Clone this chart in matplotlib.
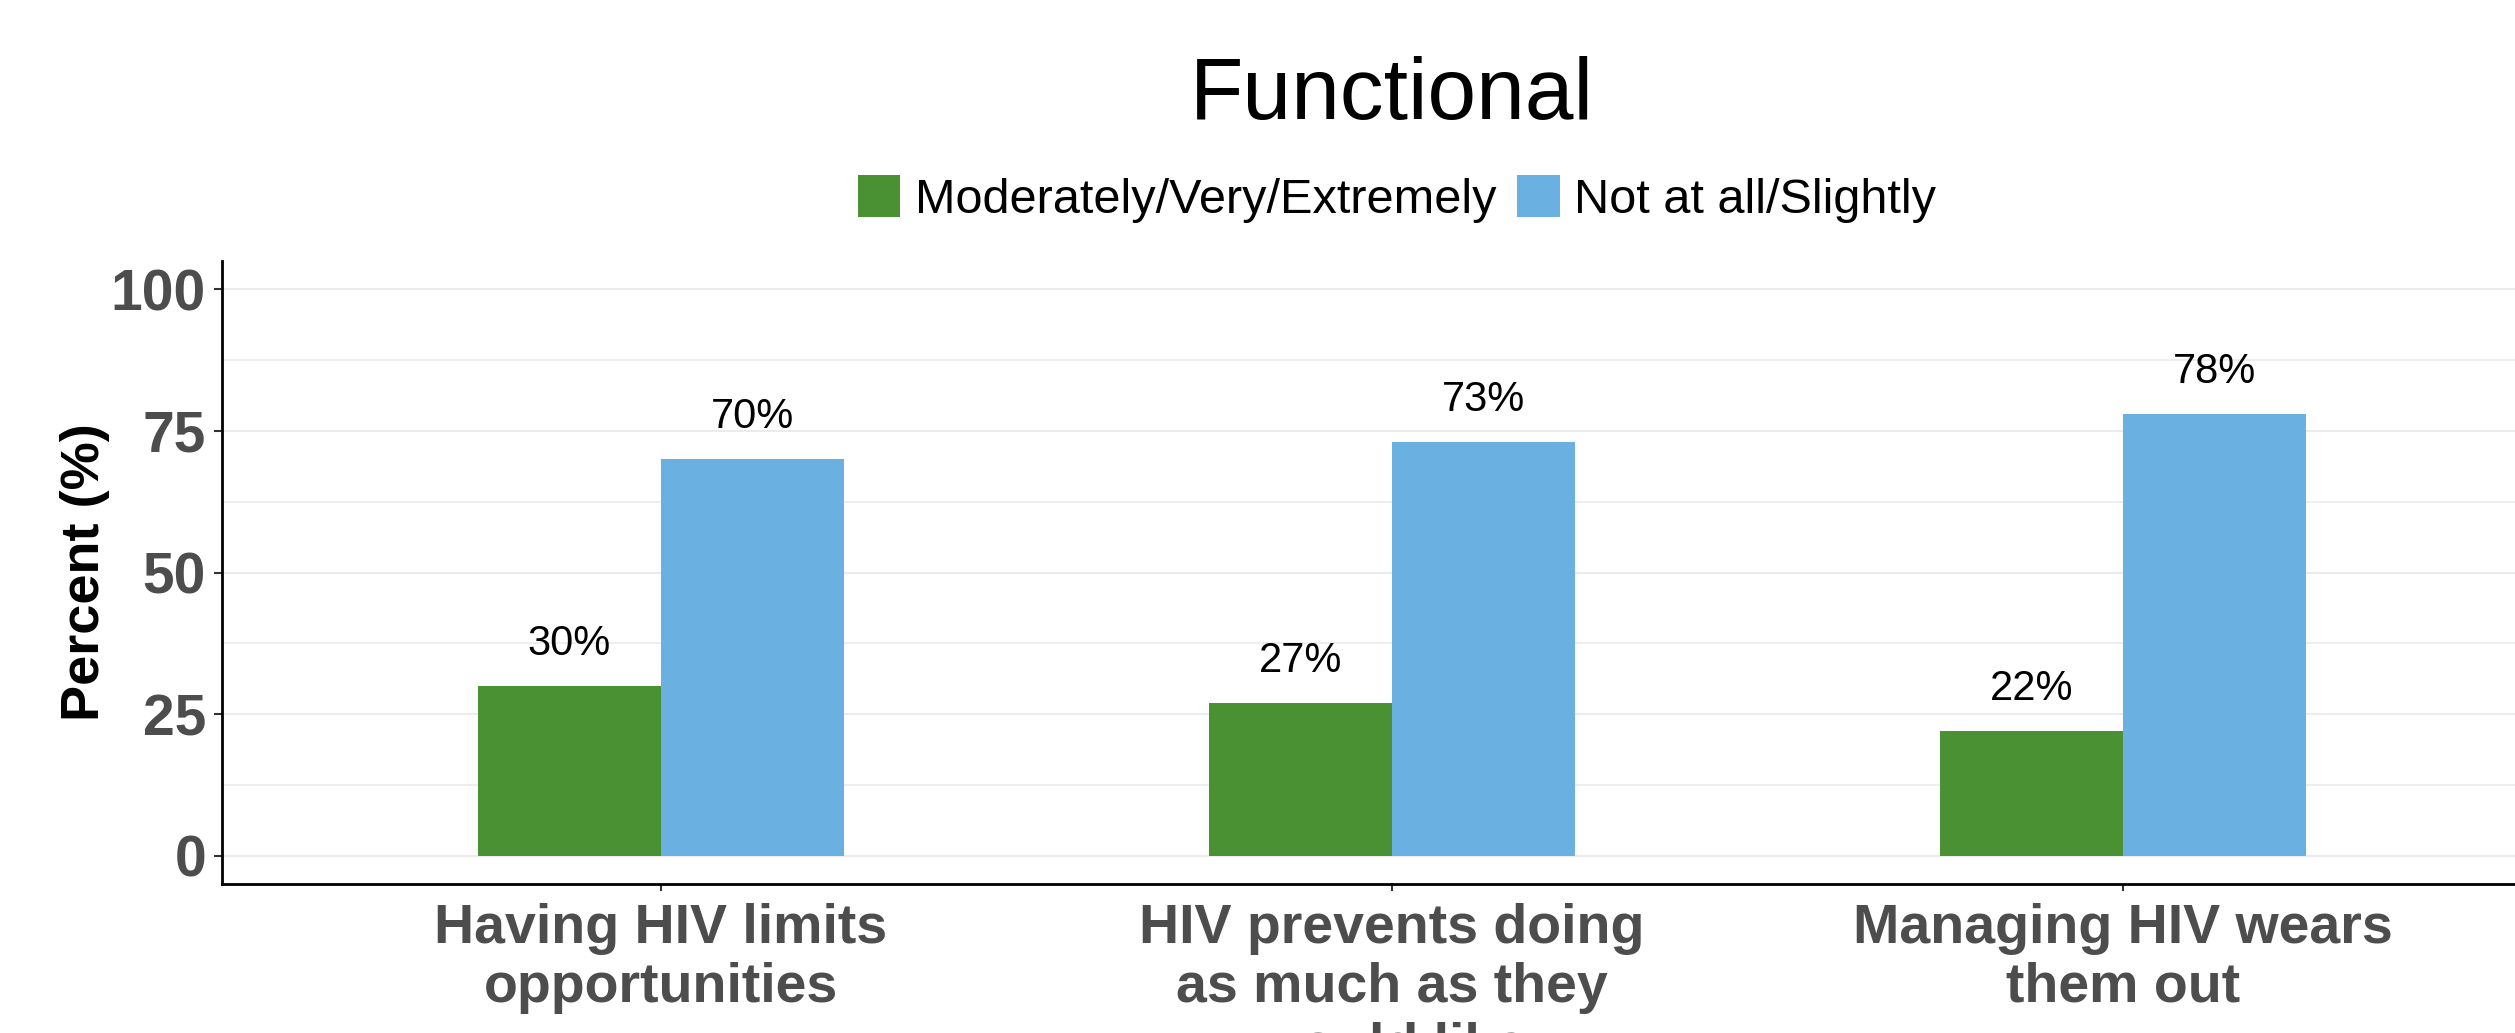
import matplotlib
matplotlib.use("Agg")
import matplotlib.pyplot as plt
import numpy as np
from matplotlib.ticker import MultipleLocator

plt.rcParams['font.family'] = ['Liberation Sans', 'DejaVu Sans']

categories = ["Having HIV limits\nopportunities",
              "HIV prevents doing\nas much as they\nwould like",
              "Managing HIV wears\nthem out"]
series_names = ["Moderately/Very/Extremely", "Not at all/Slightly"]
moderate_vals = [30, 27, 22]
notatall_vals = [70, 73, 78]
colors = ["#4A9134", "#6AB0E0"]
yticks = [0, 25, 50, 75, 100]

W, H = 2515, 1033
fig = plt.figure(figsize=(W / 100, H / 100), dpi=100)
left, right, bottom, top = 222, 2562, 884, 261
ax = fig.add_axes([left / W, 1 - bottom / H, (right - left) / W, (bottom - top) / H])

x = np.arange(1, len(categories) + 1)
bw = 0.25
bars = []
for i, (vals, col, name) in enumerate(zip([moderate_vals, notatall_vals], colors, series_names)):
    offs = (i - 0.5) * bw
    b = ax.bar(x + offs, vals, width=bw, color=col, label=name, zorder=3)
    bars.append(b)
    for xi, v in zip(x + offs, vals):
        ax.text(xi, v + 5.5, f"{v}%", ha='center', va='baseline', fontsize=30, color='black', zorder=4)

ax.set_xlim(0.4, 3.6)
ax.set_ylim(-5, 105)
ax.set_yticks(yticks)
ax.yaxis.set_minor_locator(MultipleLocator(12.5))
ax.set_xticks(x)
ax.set_xticklabels(categories, fontsize=40, fontweight='bold', color='#4D4D4D', linespacing=1.18)
ax.tick_params(axis='y', labelsize=41, labelcolor='#4D4D4D', length=6, width=1.5, color='#333333', pad=5.5)
ax.tick_params(axis='x', length=5, width=1.5, color='#333333', pad=8.5)
for lbl in ax.get_yticklabels():
    lbl.set_fontweight('bold')
ax.tick_params(axis='y', which='minor', length=0)
ax.grid(axis='y', which='major', color='#EBEBEB', linewidth=1.5, zorder=0)
ax.grid(axis='y', which='minor', color='#EBEBEB', linewidth=1.2, zorder=0)
ax.set_axisbelow(True)
for s in ['top', 'right']:
    ax.spines[s].set_visible(False)
for s in ['left', 'bottom']:
    ax.spines[s].set_color('black')
    ax.spines[s].set_linewidth(2)
ax.set_ylabel("Percent (%)", fontsize=39, fontweight='bold', color='black', va='center')
ax.yaxis.set_label_coords((85 - left) / (right - left), 0.5)

fig.text((left + right) / 2 / W, 1 - 96 / H, "Functional", ha='center', va='center', fontsize=63, color='black')
fig.legend(handles=bars, labels=series_names, loc='center', bbox_to_anchor=((left + right) / 2 / W + 0.002, 1 - 199 / H),
           ncol=2, frameon=False, fontsize=35, handlelength=0.87, handleheight=0.93,
           handletextpad=0.3, columnspacing=0.44, borderpad=0, borderaxespad=0)

fig.savefig("out.png", dpi=100)
